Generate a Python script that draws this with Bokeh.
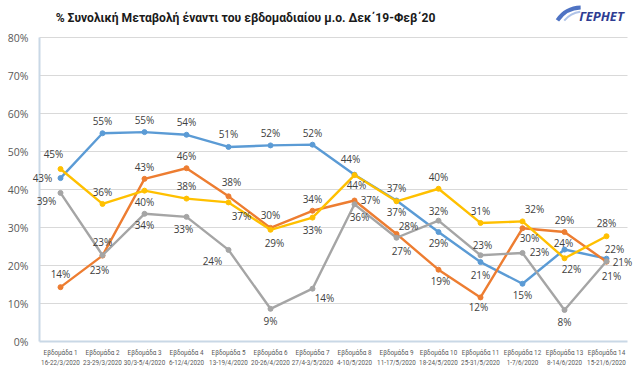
from bokeh.plotting import figure
from bokeh.models import ColumnDataSource
from bokeh.core.properties import value
from bokeh.embed import file_html
from bokeh.resources import INLINE

weeks = ["Εβδομάδα 1", "Εβδομάδα 2", "Εβδομάδα 3", "Εβδομάδα 4", "Εβδομάδα 5",
         "Εβδομάδα 6", "Εβδομάδα 7", "Εβδομάδα 8", "Εβδομάδα 9", "Εβδομάδα 10",
         "Εβδομάδα 11", "Εβδομάδα 12", "Εβδομάδα 13", "Εβδομάδα 14"]
dates = ["16-22/3/2020", "23-29/3/2020", "30/3-5/4/2020", "6-12/4/2020", "13-19/4/2020",
         "20-26/4/2020", "27/4-3/5/2020", "4-10/5/2020", "11-17/5/2020", "18-24/5/2020",
         "25-31/5/2020", "1-7/6/2020", "8-14/6/2020", "15-21/6/2020"]

blue = [43.0, 54.8, 55.1, 54.4, 51.2, 51.6, 51.8, 43.9, 37.1, 28.8, 20.9, 15.2, 24.2, 21.8]
orange = [14.3, 22.6, 42.8, 45.6, 38.2, 29.9, 34.4, 37.1, 28.3, 18.9, 11.6, 29.8, 28.8, 21.0]
yellow = [45.4, 36.2, 39.7, 37.6, 36.6, 29.4, 32.6, 43.8, 36.9, 40.2, 31.2, 31.6, 21.9, 27.7]
gray = [39.1, 22.7, 33.6, 32.8, 24.1, 8.6, 13.9, 36.1, 27.3, 31.8, 22.7, 23.3, 8.3, 21.1]

y_ticks = [0, 10, 20, 30, 40, 50, 60, 70, 80]
title_text = "% Συνολική Μεταβολή έναντι του εβδομαδιαίου μ.ο. Δεκ΄19-Φεβ΄20"
logo_text = "ΓΕΡΗΕΤ"

# label placement (screen px offsets, +down), style only
blue_dx = [-18, 0, 0, 0, 0, 0, 0, -4, 0, 0, 0, 0, -1, 8]
blue_dy = [0, -12, -12, -13, -13, -12, -12, -16, -13, 11, 13, 11, -7, -10]
orange_dx = [0, 0, 0, 0, 3, 0, 0, 16, 12, 2, -2, 7, 0, 16]
orange_dy = [-13, -14, -12, -12, -14, -13, -12, -1, -8, 11, 10, 10, -12, 0]
yellow_dx = [-7, 0, 0, 0, 13, 4, 0, 2, 0, 0, 0, 12, 7, 0]
yellow_dy = [-15, -12, 11, -13, 14, 13, 12, 10, 11, -12, -12, -12, 11, -13]
gray_dx = [-14, -3, 0, -3, -16, 0, 12, 5, 5, 0, 2, 17, 0, 5]
gray_dy = [8, 15, 11, 12, 11, 12, 9, 13, 13, -10, -10, -1, 12, 15]

# ---- layout (figure pixels) ----
W, H = 640, 371
PX0, DXP = 60.0, 42.0        # first category centre, px per category
PY0, DYP = 341.0, 3.8        # y of 0%, px per 1%
PLOT_L, PLOT_R = 39.0, 627.0


def X(px):
    return (px - PX0) / DXP


def Y(py):
    return (PY0 - py) / DYP


p = figure(width=W, height=H, x_range=(X(0), X(W)), y_range=(Y(H), Y(0)),
           output_backend="svg", toolbar_location=None,
           min_border=0, x_axis_type=None, y_axis_type=None)
p.outline_line_color = None
p.grid.visible = False
p.background_fill_color = "white"
p.border_fill_color = "white"

xs = list(range(len(weeks)))

# gridlines
gl = [t for t in y_ticks if t > 0]
p.segment(x0=[X(PLOT_L)] * len(gl), x1=[X(PLOT_R)] * len(gl), y0=gl, y1=gl,
          line_color="#D9D9D9", line_width=1)
# axis lines
p.segment(x0=[X(PLOT_L)], x1=[X(PLOT_L)], y0=[y_ticks[0]], y1=[y_ticks[-1]],
          line_color="#C9D8E6", line_width=2)
p.segment(x0=[X(PLOT_L)], x1=[X(PLOT_R)], y0=[y_ticks[0]], y1=[y_ticks[0]],
          line_color="#C9D8E6", line_width=2)
# y tick labels
p.text(x=[X(PLOT_L - 11)] * len(y_ticks), y=y_ticks, text=[f"{t}%" for t in y_ticks],
       text_align="right", text_baseline="middle", text_font=value("Open Sans"),
       text_font_size="10.5px", text_color="#595959")
# category labels
p.text(x=xs, y=[0] * len(xs), text=weeks, y_offset=11,
       text_align="center", text_baseline="middle", text_font=value("Roboto"),
       text_font_size="6.3px", text_color="#595959")
p.text(x=xs, y=[0] * len(xs), text=dates, y_offset=21,
       text_align="center", text_baseline="middle", text_font=value("Roboto"),
       text_font_size="6.3px", text_color="#595959")

series = [
    (blue, "#5B9BD5", blue_dx, blue_dy),
    (orange, "#ED7D31", orange_dx, orange_dy),
    (gray, "#A5A5A5", gray_dx, gray_dy),
    (yellow, "#FFC000", yellow_dx, yellow_dy),
]
for vals, col, dx, dy in series:
    src = ColumnDataSource(dict(x=xs, y=vals))
    p.line("x", "y", source=src, line_color=col, line_width=2.4)
    p.scatter("x", "y", source=src, size=5, fill_color=col, line_color=col)

for vals, col, dx, dy in series:
    src = ColumnDataSource(dict(x=xs, y=vals,
                                lab=[f"{round(v)}%" for v in vals], dx=dx, dy=dy))
    p.text("x", "y", text="lab", source=src, x_offset="dx", y_offset="dy",
           text_align="center", text_baseline="middle", text_font=value("Open Sans"),
           text_font_size="10px", text_color="#404040")

# title
p.text(x=[X(245)], y=[Y(17)], text=[title_text], text_align="center", text_baseline="middle",
       text_font=value("Roboto"), text_font_style="bold", text_font_size="12.1px",
       text_color="#1a1a1a")
# logo
p.arc(x=[X(581)], y=[Y(36)], radius=29, radius_units="screen",
      start_angle=1.6, end_angle=2.55, line_color="#4F73C3", line_width=4)
p.arc(x=[X(583)], y=[Y(36)], radius=25, radius_units="screen",
      start_angle=1.7, end_angle=2.45, line_color="#AFC3E8", line_width=2)
p.text(x=[X(601)], y=[Y(15)], text=[logo_text], text_align="center", text_baseline="middle",
       text_font=value("Open Sans"), text_font_style="bold italic", text_font_size="13px",
       text_color="#2E3D92")

open("out.html", "w").write(file_html(p, INLINE))
